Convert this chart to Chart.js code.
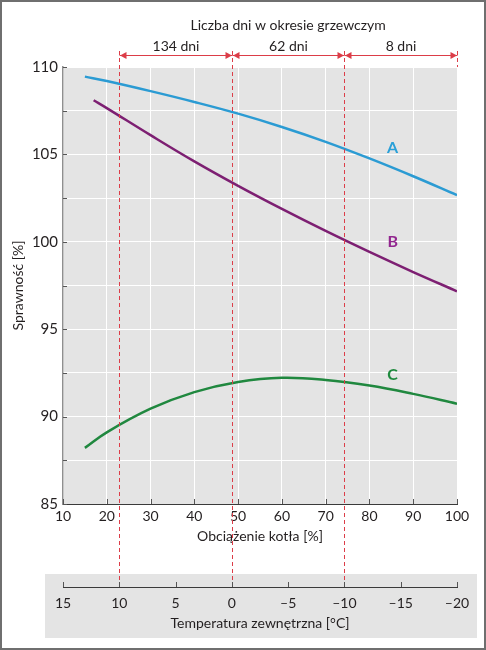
<!DOCTYPE html>
<html>
<head>
<meta charset="utf-8">
<script src="https://cdn.jsdelivr.net/npm/chart.js@4/dist/chart.umd.min.js"></script>
<style>
  html, body { margin: 0; padding: 0; background: #fff; }
</style>
</head>
<body>
<canvas id="sprawnosc" width="486" height="650"></canvas>
<script>
// obciazenie kotla [%] i sprawnosc [%] dla krzywych A, B, C
const loadA = [15, 20, 30, 40, 50, 60, 70, 80, 90, 100];
const effA  = [109.45, 109.2, 108.62, 108.0, 107.33, 106.57, 105.72, 104.77, 103.75, 102.67];
const loadB = [17, 20, 30, 40, 50, 60, 70, 80, 90, 100];
const effB  = [108.1, 107.65, 106.1, 104.6, 103.2, 101.88, 100.62, 99.42, 98.27, 97.17];
const loadC = [15, 20, 30, 40, 50, 60, 70, 80, 90, 100];
const effC  = [88.21, 89.1, 90.45, 91.4, 91.98, 92.22, 92.1, 91.78, 91.3, 90.74];

const loadTicks = [10, 20, 30, 40, 50, 60, 70, 80, 90, 100];
const effTicks = [85, 87.5, 90, 92.5, 95, 97.5, 100, 102.5, 105, 107.5, 110];
const tempTicks = [15, 10, 5, 0, -5, -10, -15, -20];

// granice okresow (temperatura zewn.) i liczba dni
const periodBounds = [10, 0, -10, -20];
const periodDays = ['134 dni', '62 dni', '8 dni'];
const seriesNames = ['A', 'B', 'C'];

const FONT = 'Lato, "Liberation Sans", sans-serif';
const TXT = '#231f20';
const AXIS = '#3a3a3a';
const RED = '#dc3d48';
const colors = ['#2b9bd3', '#7d1f72', '#20883f'];
const labelColors = ['#2aa0d8', '#92278f', '#1f8a3e'];

function pts(xs, ys) { return xs.map((x, i) => ({ x: x, y: ys[i] })); }

const extras = {
  id: 'extras',
  beforeDraw(chart) {
    const ctx = chart.ctx, a = chart.chartArea, t = chart.scales.t;
    ctx.save();
    ctx.fillStyle = '#e4e4e4';
    ctx.fillRect(a.left, a.top, a.right - a.left, a.bottom - a.top);
    ctx.fillRect(45, t.top - 13, 432, 64);
    ctx.restore();
  },
  afterDatasetsDraw(chart) {
    const ctx = chart.ctx, a = chart.chartArea;
    const x = chart.scales.x, y = chart.scales.y, t = chart.scales.t;
    ctx.save();
    // etykiety krzywych
    ctx.font = 'bold 16px ' + FONT;
    ctx.textAlign = 'center';
    ctx.textBaseline = 'middle';
    const lx = 85.3, ly = [105.35, 100.0, 92.4];
    seriesNames.forEach((n, i) => {
      ctx.fillStyle = labelColors[i];
      ctx.fillText(n, x.getPixelForValue(lx), y.getPixelForValue(ly[i]));
    });
    // linie przerywane
    ctx.strokeStyle = RED;
    ctx.lineWidth = 1;
    ctx.setLineDash([4, 3]);
    periodBounds.forEach((b, i) => {
      const px = Math.round(t.getPixelForValue(b)) + 0.5;
      ctx.beginPath();
      ctx.moveTo(px, 51);
      ctx.lineTo(px, i === periodBounds.length - 1 ? a.top : t.top + 3);
      ctx.stroke();
    });
    ctx.setLineDash([]);
    // strzalki
    ctx.fillStyle = RED;
    const ay = 55.5;
    for (let i = 0; i < periodDays.length; i++) {
      const x1 = Math.round(t.getPixelForValue(periodBounds[i])) + 0.5;
      const x2 = Math.round(t.getPixelForValue(periodBounds[i + 1])) + 0.5;
      ctx.beginPath();
      ctx.moveTo(x1, ay); ctx.lineTo(x2, ay); ctx.stroke();
      ctx.beginPath();
      ctx.moveTo(x1 + 0.5, ay); ctx.lineTo(x1 + 7, ay - 3.5); ctx.lineTo(x1 + 7, ay + 3.5); ctx.fill();
      ctx.beginPath();
      ctx.moveTo(x2 - 0.5, ay); ctx.lineTo(x2 - 7, ay - 3.5); ctx.lineTo(x2 - 7, ay + 3.5); ctx.fill();
      ctx.fillStyle = TXT;
      ctx.font = '14px ' + FONT;
      ctx.fillText(periodDays[i], (x1 + x2) / 2, 46);
      ctx.fillStyle = RED;
    }
    const s0 = t.getPixelForValue(periodBounds[0]);
    const s1 = t.getPixelForValue(periodBounds[periodBounds.length - 1]);
    ctx.fillStyle = TXT;
    ctx.fillText('Liczba dni w okresie grzewczym', (s0 + s1) / 2, 25);
    ctx.restore();
  },
  afterDraw(chart) {
    const ctx = chart.ctx, a = chart.chartArea;
    const x = chart.scales.x, y = chart.scales.y, t = chart.scales.t;
    ctx.save();
    ctx.strokeStyle = '#555';
    ctx.lineWidth = 1;
    ctx.beginPath();
    loadTicks.forEach(v => {
      const px = Math.round(x.getPixelForValue(v)) + 0.5;
      ctx.moveTo(px, a.bottom); ctx.lineTo(px, a.bottom - 5);
    });
    effTicks.forEach(v => {
      const py = Math.round(y.getPixelForValue(v)) + 0.5;
      ctx.moveTo(a.left, py); ctx.lineTo(a.left + 4, py);
    });
    tempTicks.forEach(v => {
      const px = Math.round(t.getPixelForValue(v)) + 0.5;
      ctx.moveTo(px, t.top); ctx.lineTo(px, t.top - 5);
    });
    ctx.stroke();
    ctx.strokeStyle = '#6f6f6f';
    ctx.lineWidth = 2;
    ctx.strokeRect(1, 1, chart.width - 2, chart.height - 2);
    ctx.restore();
  }
};

new Chart(document.getElementById('sprawnosc'), {
  type: 'line',
  data: {
    datasets: [
      { label: 'A', data: pts(loadA, effA), borderColor: colors[0] },
      { label: 'B', data: pts(loadB, effB), borderColor: colors[1] },
      { label: 'C', data: pts(loadC, effC), borderColor: colors[2] }
    ]
  },
  options: {
    responsive: false,
    animation: false,
    devicePixelRatio: 1,
    layout: { padding: { top: 67, right: 29, left: 0, bottom: 0 } },
    elements: {
      line: { borderWidth: 2.5, tension: 0.4, fill: false },
      point: { radius: 0 }
    },
    plugins: { legend: { display: false }, tooltip: { enabled: false } },
    scales: {
      x: {
        type: 'linear', position: 'bottom', weight: 0, min: 10, max: 100,
        afterBuildTicks: s => { s.ticks = loadTicks.map(v => ({ value: v })); },
        afterFit: s => { s.height = 83; },
        grid: { color: '#ffffff', lineWidth: 1, drawTicks: false },
        border: { color: AXIS, width: 1 },
        ticks: { padding: 4, color: TXT, maxRotation: 0, font: { family: FONT, size: 14 } },
        title: { display: true, text: 'Obciążenie kotła [%]', color: TXT,
                 font: { family: FONT, size: 14 }, padding: { top: 0, bottom: 42 } }
      },
      t: {
        type: 'linear', position: 'bottom', weight: 1, min: -20, max: 15, reverse: true,
        afterBuildTicks: s => { s.ticks = tempTicks.map(v => ({ value: v })); },
        afterFit: s => { s.height = 63; },
        grid: { display: false, drawOnChartArea: false, drawTicks: false },
        border: { display: true, color: AXIS, width: 1 },
        ticks: { padding: 8, color: TXT, maxRotation: 0, font: { family: FONT, size: 14 },
                 callback: v => v < 0 ? '–' + (-v) : String(v) },
        title: { display: true, text: 'Temperatura zewnętrzna [°C]', color: TXT,
                 font: { family: FONT, size: 14 }, padding: { top: 0, bottom: 18 } }
      },
      y: {
        type: 'linear', position: 'left', min: 85, max: 110,
        afterBuildTicks: s => { s.ticks = effTicks.map(v => ({ value: v })); },
        afterFit: s => { s.width = 63; },
        grid: { color: '#ffffff', lineWidth: 1, drawTicks: false },
        border: { color: '#8f8f8f', width: 1.5 },
        ticks: { padding: 5, color: TXT, font: { family: FONT, size: 15 },
                 callback: v => v % 5 === 0 ? String(v) : '' },
        title: { display: true, text: 'Sprawność [%]', color: TXT,
                 font: { family: FONT, size: 14 }, padding: { top: 10, bottom: 0 } }
      }
    }
  },
  plugins: [extras]
});
</script>
</body>
</html>
